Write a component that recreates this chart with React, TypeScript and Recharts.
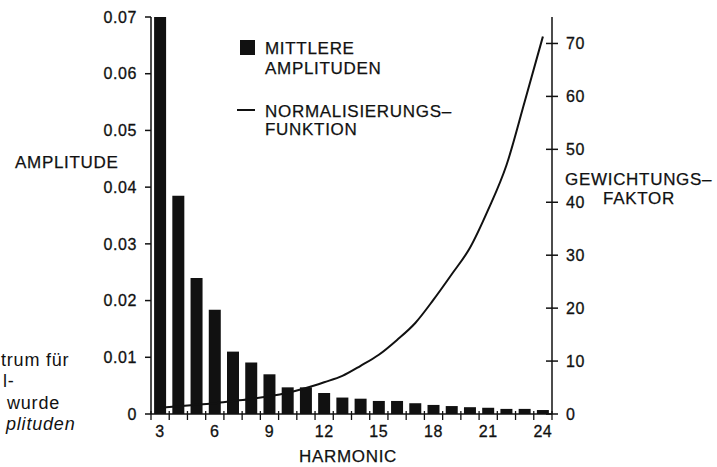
import { ComposedChart, Bar, Line, XAxis, YAxis } from 'recharts';

// harmonic numbers on the x axis
const harmonics = [3, 4, 5, 6, 7, 8, 9, 10, 11, 12, 13, 14, 15, 16, 17, 18, 19, 20, 21, 22, 23, 24];
// mean amplitude per harmonic (left axis)
const amplitudes = [
  0.07, 0.0385, 0.024, 0.0184, 0.011, 0.0091, 0.007, 0.0047, 0.0047, 0.0037, 0.0029,
  0.0027, 0.0023, 0.0023, 0.0019, 0.0016, 0.0014, 0.0012, 0.0011, 0.0009, 0.0009, 0.0007,
];
// normalisation / weighting function (right axis)
const weights = [
  1.2, 1.45, 1.75, 2.05, 2.45, 2.85, 3.35, 4.0, 4.9, 6.0, 7.2,
  9.1, 11.2, 14.0, 17.2, 21.6, 26.4, 31.4, 38.6, 47.0, 59.0, 71.3,
];
const ampTicks = [0, 0.01, 0.02, 0.03, 0.04, 0.05, 0.06, 0.07];
const weightTicks = [0, 10, 20, 30, 40, 50, 60, 70];
const labelledHarmonics = [3, 6, 9, 12, 15, 18, 21, 24];

const data = harmonics.map((h, i) => ({ h, amp: amplitudes[i], weight: weights[i] }));

const W = 717;
const H = 467;
const LEFT = 151;
const RIGHT = 552;
const TOP = 17;
const BOTTOM = 414;
const AXIS_W = 60;
const X_H = 30;
const BAND = (RIGHT - LEFT) / harmonics.length;
const FONT = '"Liberation Sans", Arial, Helvetica, sans-serif';
const INK = '#111';

const tickText = { fontFamily: FONT, fontSize: 16, fill: INK, stroke: INK, strokeWidth: 0.3, letterSpacing: 0.6 };

function AmpTick({ y, payload }: any) {
  const v = payload.value as number;
  return (
    <g>
      <line x1={LEFT - 6} x2={LEFT} y1={y} y2={y} stroke={INK} strokeWidth={1.5} />
      <text x={LEFT - 14} y={y} dy="0.36em" textAnchor="end" style={tickText}>
        {v === 0 ? '0' : v.toFixed(2)}
      </text>
    </g>
  );
}

function WeightTick({ y, payload }: any) {
  return (
    <g>
      <line x1={RIGHT - 6} x2={RIGHT + 6} y1={y} y2={y} stroke={INK} strokeWidth={1.5} />
      <text x={RIGHT + 14} y={y} dy="0.36em" textAnchor="start" style={tickText}>
        {payload.value}
      </text>
    </g>
  );
}

function HarmonicTick({ x, payload, index }: any) {
  const edge = x - BAND / 2;
  const last = index === harmonics.length - 1;
  const v = payload.value as number;
  return (
    <g>
      <line x1={edge} x2={edge} y1={BOTTOM - 3} y2={BOTTOM + 6} stroke={INK} strokeWidth={1.3} />
      {last && <line x1={x + BAND / 2} x2={x + BAND / 2} y1={BOTTOM - 3} y2={BOTTOM + 6} stroke={INK} strokeWidth={1.3} />}
      {labelledHarmonics.includes(v) && (
        <text x={x} y={437} textAnchor="middle" style={tickText}>
          {v}
        </text>
      )}
    </g>
  );
}

const label = { fontFamily: FONT, fontSize: 17, fill: INK, stroke: INK, strokeWidth: 0.25, letterSpacing: 0.7 };
const caption = { fontFamily: FONT, fontSize: 18, fill: INK, letterSpacing: 0.8 };

export default function App() {
  return (
    <div style={{ position: 'absolute', left: 0, top: 0, width: W, height: H, background: '#fff' }}>
      <ComposedChart
        width={W}
        height={H}
        data={data}
        margin={{ top: TOP, left: LEFT - AXIS_W, right: W - RIGHT - AXIS_W, bottom: H - BOTTOM - X_H }}
        barCategoryGap="17%"
      >
        <XAxis
          dataKey="h"
          type="category"
          interval={0}
          height={X_H}
          tickLine={false}
          tickSize={0}
          axisLine={{ stroke: INK, strokeWidth: 1.5 }}
          tick={<HarmonicTick />}
        />
        <YAxis
          yAxisId="amp"
          orientation="left"
          width={AXIS_W}
          domain={[0, 0.07]}
          ticks={ampTicks}
          tickLine={false}
          axisLine={{ stroke: INK, strokeWidth: 1.5 }}
          tick={<AmpTick />}
        />
        <YAxis
          yAxisId="weight"
          orientation="right"
          width={AXIS_W}
          domain={[0, 75]}
          ticks={weightTicks}
          tickLine={false}
          axisLine={{ stroke: INK, strokeWidth: 1.5 }}
          tick={<WeightTick />}
        />
        <Bar yAxisId="amp" dataKey="amp" fill={INK} isAnimationActive={false} />
        <Line
          yAxisId="weight"
          dataKey="weight"
          type="monotone"
          stroke={INK}
          strokeWidth={2}
          dot={false}
          isAnimationActive={false}
        />
      </ComposedChart>

      <svg width={W} height={H} style={{ position: 'absolute', left: 0, top: 0, pointerEvents: 'none' }}>
        {/* legend */}
        <rect x={240} y={40} width={15} height={15} fill={INK} />
        <text x={265} y={54} style={label}>MITTLERE</text>
        <text x={265} y={74} style={label}>AMPLITUDEN</text>
        <line x1={237} x2={255} y1={110} y2={110} stroke={INK} strokeWidth={2} />
        <text x={265} y={117} style={label}>NORMALISIERUNGS–</text>
        <text x={265} y={135} style={label}>FUNKTION</text>

        {/* axis titles */}
        <text x={15} y={168} style={label}>AMPLITUDE</text>
        <text x={565} y={185} style={label}>GEWICHTUNGS–</text>
        <text x={603} y={204} style={label}>FAKTOR</text>
        <text x={348} y={462} textAnchor="middle" style={label}>HARMONIC</text>

        {/* neighbouring caption text at the page edge */}
        <text x={1} y={366} style={caption}>trum für</text>
        <text x={3} y={387} style={caption}>l-</text>
        <text x={7} y={409} style={caption}>wurde</text>
        <text x={6} y={430} style={{ ...caption, fontStyle: 'italic' }}>plituden</text>
      </svg>
    </div>
  );
}
